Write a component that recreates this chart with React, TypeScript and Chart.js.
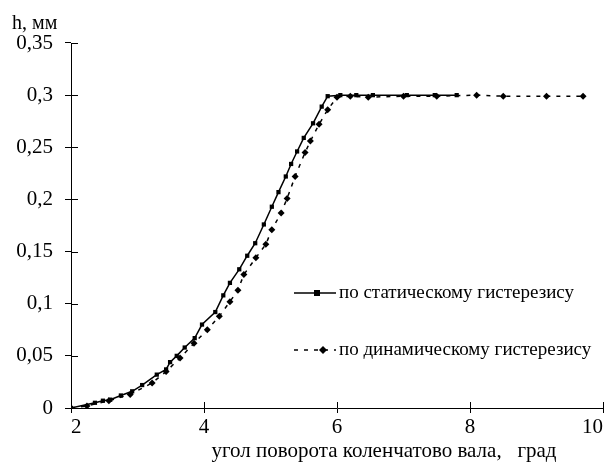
import React, { useEffect, useRef } from 'react';
import { Chart, registerables } from 'chart.js';

Chart.register(...registerables);

const staticX = [2.0, 2.36, 2.48, 2.59, 2.75, 2.92, 3.07, 3.29, 3.43, 3.49, 3.59, 3.71, 3.86, 3.97, 4.17, 4.29, 4.39, 4.53, 4.65, 4.77, 4.9, 5.02, 5.12, 5.23, 5.31, 5.4, 5.5, 5.64, 5.77, 5.86, 6.05, 6.29, 6.54, 7.05, 7.47, 7.8];
const staticY = [0, 0.005, 0.007, 0.008, 0.012, 0.016, 0.022, 0.032, 0.037, 0.044, 0.05, 0.058, 0.067, 0.08, 0.092, 0.108, 0.12, 0.133, 0.146, 0.158, 0.176, 0.193, 0.207, 0.222, 0.234, 0.246, 0.259, 0.273, 0.289, 0.299, 0.3, 0.3, 0.3, 0.3, 0.3, 0.3];

const dynamicX = [2.0, 2.24, 2.57, 2.89, 3.22, 3.43, 3.64, 3.85, 4.05, 4.23, 4.39, 4.51, 4.6, 4.78, 4.93, 5.02, 5.16, 5.25, 5.37, 5.52, 5.6, 5.73, 5.86, 6.0, 6.2, 6.47, 7.0, 7.5, 8.1, 8.5, 9.15, 9.7];
const dynamicY = [0, 0.002, 0.007, 0.013, 0.024, 0.035, 0.048, 0.062, 0.075, 0.088, 0.102, 0.113, 0.128, 0.144, 0.157, 0.171, 0.187, 0.201, 0.222, 0.245, 0.256, 0.272, 0.286, 0.298, 0.299, 0.298, 0.299, 0.299, 0.3, 0.299, 0.299, 0.299];

const xTickLabels = ['2', '4', '6', '8', '10'];
const yTickLabels = ['0', '0,05', '0,1', '0,15', '0,2', '0,25', '0,3', '0,35'];
const seriesNames = ['по статическому гистерезису', 'по динамическому гистерезису'];
const xTitle = 'угол поворота коленчатово вала,   град';
const yTitle = 'h, мм';

const FONT = 'Liberation Serif';

const overlayPlugin = {
  id: 'overlay',
  afterDraw(chart: any) {
    const ctx = chart.ctx;
    const xs = chart.scales.x;
    const ys = chart.scales.y;
    const area = chart.chartArea;
    ctx.save();
    ctx.strokeStyle = '#000';
    ctx.lineWidth = 1;
    ctx.beginPath();
    xs.ticks.forEach((t: any) => {
      const px = Math.round(xs.getPixelForValue(t.value)) + 0.5;
      ctx.moveTo(px, area.bottom);
      ctx.lineTo(px, area.bottom - 6);
    });
    ys.ticks.forEach((t: any) => {
      const py = Math.round(ys.getPixelForValue(t.value)) + 0.5;
      ctx.moveTo(area.left, py);
      ctx.lineTo(area.left + 7, py);
    });
    ctx.stroke();

    ctx.fillStyle = '#000';
    ctx.font = `20px ${FONT}`;
    ctx.textBaseline = 'alphabetic';
    ctx.textAlign = 'left';
    ctx.fillText(yTitle, 12, 29);
    ctx.font = `21px ${FONT}`;
    ctx.textAlign = 'center';
    ctx.fillText(xTitle, 384, 457);

    const items = [
      { y: 293, dash: [] as number[], style: 'rect', mx: 317 },
      { y: 350, dash: [4, 6], style: 'rectRot', mx: 323 },
    ];
    items.forEach((it, i) => {
      ctx.save();
      ctx.strokeStyle = '#000';
      ctx.lineWidth = 1.5;
      ctx.setLineDash(it.dash);
      ctx.beginPath();
      ctx.moveTo(294, it.y);
      ctx.lineTo(336, it.y);
      ctx.stroke();
      ctx.setLineDash([]);
      ctx.fillStyle = '#000';
      if (it.style === 'rect') {
        ctx.fillRect(it.mx - 3, it.y - 3, 6, 6);
      } else {
        ctx.beginPath();
        ctx.moveTo(it.mx, it.y - 4);
        ctx.lineTo(it.mx + 4, it.y);
        ctx.lineTo(it.mx, it.y + 4);
        ctx.lineTo(it.mx - 4, it.y);
        ctx.closePath();
        ctx.fill();
      }
      ctx.font = `19px ${FONT}`;
      ctx.textAlign = 'left';
      ctx.textBaseline = 'middle';
      ctx.fillText(seriesNames[i], 339, it.y);
      ctx.restore();
    });
    ctx.restore();
  },
};

export default function App() {
  const ref = useRef<HTMLCanvasElement | null>(null);
  useEffect(() => {
    if (!ref.current) return;
    const chart = new Chart(ref.current, {
      type: 'line',
      data: {
        datasets: [
          {
            label: seriesNames[1],
            data: dynamicX.map((x, i) => ({ x, y: dynamicY[i] })),
            borderColor: '#000',
            backgroundColor: '#000',
            borderWidth: 1.5,
            borderDash: [4, 6],
            pointStyle: 'rectRot',
            pointRadius: 3.5,
            pointBorderWidth: 0,
            tension: 0,
          },
          {
            label: seriesNames[0],
            data: staticX.map((x, i) => ({ x, y: staticY[i] })),
            borderColor: '#000',
            backgroundColor: '#000',
            borderWidth: 1.5,
            pointStyle: 'rect',
            pointRadius: 3,
            pointBorderWidth: 0,
            tension: 0,
          },
        ],
      },
      options: {
        responsive: false,
        animation: false,
        layout: { padding: { top: 43, right: 5, left: 0, bottom: 0 } },
        plugins: { legend: { display: false }, tooltip: { enabled: false } },
        scales: {
          x: {
            type: 'linear',
            min: 2,
            max: 10,
            afterFit: (s: any) => { s.height = 54; s.paddingLeft = 0; s.paddingRight = 0; },
            afterBuildTicks: (s: any) => { s.ticks = xTickLabels.map((_, i) => ({ value: 2 + i * 2 })); },
            ticks: {
              callback: (_v: any, i: number) => xTickLabels[i],
              align: 'inner',
              color: '#000',
              font: { family: FONT, size: 21 },
              padding: 2,
              maxRotation: 0,
            },
            grid: { drawOnChartArea: false, color: '#000', tickLength: 5, tickColor: '#000' },
            border: { color: '#000', width: 1 },
          },
          y: {
            type: 'linear',
            min: 0,
            max: 0.35,
            afterFit: (s: any) => { s.width = 71; },
            afterBuildTicks: (s: any) => { s.ticks = yTickLabels.map((_, i) => ({ value: i * 0.05 })); },
            ticks: {
              callback: (_v: any, i: number) => yTickLabels[i],
              color: '#000',
              font: { family: FONT, size: 21 },
              padding: 12,
            },
            grid: { drawOnChartArea: false, color: '#000', tickLength: 6, tickColor: '#000' },
            border: { color: '#000', width: 1 },
          },
        },
      },
      plugins: [overlayPlugin],
    });
    return () => chart.destroy();
  }, []);
  return (
    <div style={{ position: 'fixed', left: 0, top: 0, width: 608, height: 462, background: '#fff' }}>
      <canvas ref={ref} width={608} height={462} style={{ display: 'block', width: 608, height: 462 }} />
    </div>
  );
}
